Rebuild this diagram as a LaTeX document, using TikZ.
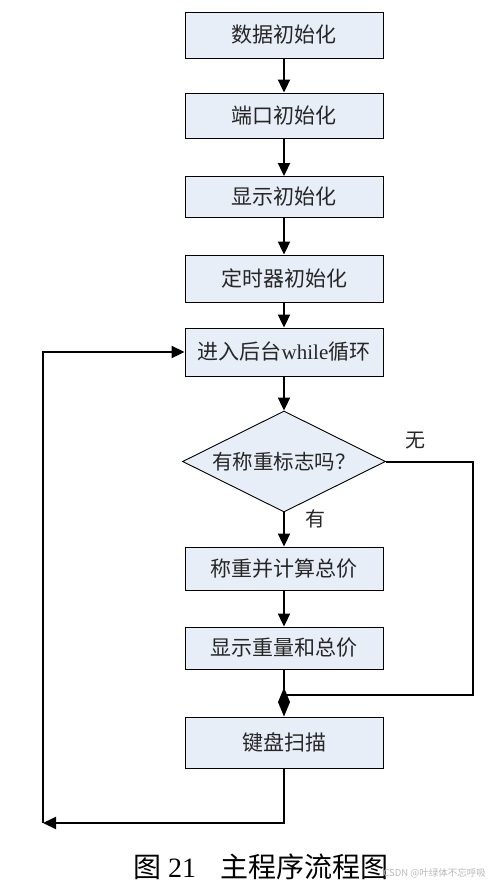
\documentclass[tikz,border=0pt]{standalone}
\usepackage{fontspec}
\setmainfont{Liberation Serif}
\newfontfamily\cjk{Noto Sans CJK SC}
\usetikzlibrary{arrows.meta,shapes.geometric}
\definecolor{boxfill}{RGB}{232,238,247}
\definecolor{wmgray}{RGB}{185,185,185}
\begin{document}
\begin{tikzpicture}[x=1pt,y=-1pt,
  box/.style={draw=black, line width=0.9pt, fill=boxfill, minimum width=198pt,
    inner sep=0pt, text=black!85, font=\fontsize{21}{25}\selectfont\cjk},
  dec/.style={draw=black, line width=0.9pt, fill=boxfill, diamond, aspect=2,
    minimum width=203pt, minimum height=101pt, inner sep=0pt, text=black!85,
    font=\fontsize{20.5}{24}\selectfont\cjk},
  lbl/.style={inner sep=0pt, text=black!85, font=\fontsize{20}{24}\selectfont\cjk},
  wire/.style={draw=black, line width=2pt},
  conn/.style={wire, -{Triangle[length=13pt,width=12pt]}},
  merge/.style={wire, -{Diamond[length=29pt,width=12pt]}}
]
\useasboundingbox (0,0) rectangle (489,895);

\node[box, minimum height=46pt] (b1) at (284,35) {数据初始化};
\node[box, minimum height=45pt] (b2) at (284,115.5) {端口初始化};
\node[box, minimum height=41pt] (b3) at (284,197) {显示初始化};
\node[box, minimum height=47pt] (b4) at (284,278.5) {定时器初始化};
\node[box, minimum height=48pt] (b5) at (284,352) {进入后台{\rmfamily while}循环};
\node[dec] (d) at (284,461.5) {有称重标志吗？};
\node[box, minimum height=43pt] (b6) at (284,568.5) {称重并计算总价};
\node[box, minimum height=42pt] (b7) at (284,648) {显示重量和总价};
\node[box, minimum height=51pt] (b8) at (284,742.5) {键盘扫描};

\node[lbl] (lno) at (415,441) {无};
\node[lbl] (lyes) at (315,519) {有};

\coordinate (r) at (473,695);
\coordinate (m) at (284,695);
\coordinate (c1) at (43,823);

\draw[conn] (b1.south) -- (b2.north);
\draw[conn] (b2.south) -- (b3.north);
\draw[conn] (b3.south) -- (b4.north);
\draw[conn] (b4.south) -- (b5.north);
\draw[conn] (b5.south) -- (d.north);
\draw[conn] (d.south) -- (b6.north);
\draw[conn] (b6.south) -- (b7.north);
\draw[merge] (b7.south) -- (b8.north);
\draw[wire] (d.east) -| (r) -- (m);
\draw[conn] (b8.south) |- (c1);
\draw[conn] (c1) |- (b5.west);

\node[anchor=west, inner sep=0pt, font=\fontsize{28}{32}\selectfont] (cap1) at (133,867) {{\cjk 图} 21};
\node[anchor=west, inner sep=0pt, font=\fontsize{28}{32}\selectfont\cjk] (cap2) at (220,867) {主程序流程图};
\node[anchor=east, inner sep=0pt, text=wmgray, font=\fontsize{9.5}{11}\selectfont\cjk] (wm) at (486,873) {CSDN @叶绿体不忘呼吸};
\end{tikzpicture}
\end{document}
